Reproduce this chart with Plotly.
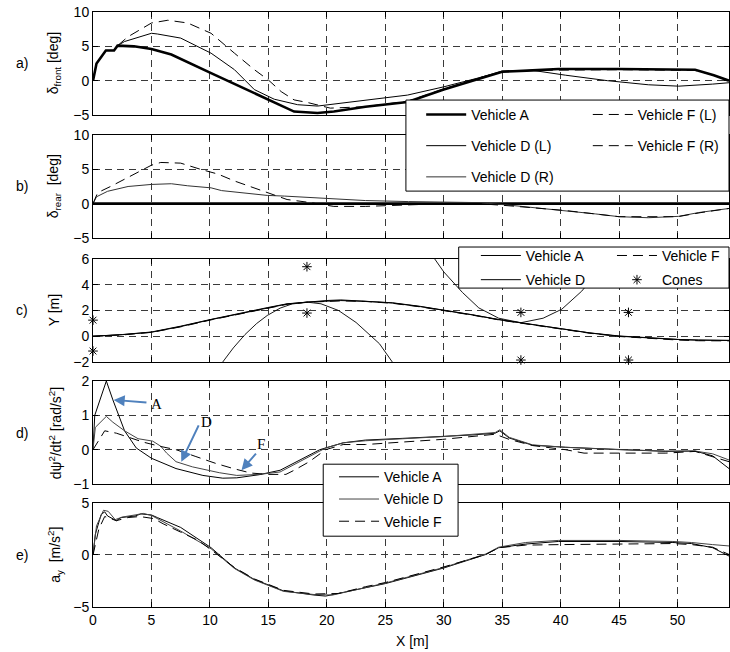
import plotly.graph_objects as go

# ---------------- data ----------------
# a) front steer angle [deg]
xa_A = [0, 0.3, 1.1, 1.8, 2.1, 3.5, 5.0, 6.7, 10.1, 12.0, 15.0, 17.2, 19.2, 20.6, 23.3, 26.9, 30.0, 33.2, 35.0, 37.6, 39.8, 45.0, 51.5, 53.1, 54.4]
ya_A = [0, 2.5, 4.4, 4.4, 5.1, 5.0, 4.6, 3.8, 1.1, -0.4, -2.8, -4.5, -4.7, -4.5, -3.8, -3.1, -1.3, 0.4, 1.3, 1.5, 1.7, 1.7, 1.6, 0.8, 0.0]
xa_D = [0, 0.3, 1.1, 1.8, 2.1, 2.7, 5.0, 5.5, 7.5, 10.1, 12.1, 13.8, 15.5, 17.5, 19.2, 20.1, 23.3, 26.9, 30.0, 33.2, 35.0, 37.6, 40.4, 44.0, 47.5, 50.1, 53.0, 54.4]
ya_D = [0, 2.5, 4.4, 4.4, 5.1, 5.7, 6.9, 6.8, 6.2, 4.0, 1.6, -1.3, -2.7, -3.5, -3.7, -3.5, -2.8, -2.1, -0.9, 0.5, 1.4, 1.5, 0.8, 0.0, -0.6, -0.8, -0.5, -0.3]
xa_F = [0, 0.3, 1.1, 1.8, 2.1, 3.0, 5.0, 6.4, 8.1, 10.1, 12.1, 13.8, 15.0, 16.1, 17.2, 18.4, 20.3, 23.2, 26.9, 30.0, 33.2, 35.0, 37.6, 45.0, 51.5, 53.1, 54.4]
ya_F = [0, 2.5, 4.4, 4.4, 5.1, 6.4, 8.4, 8.8, 8.4, 6.9, 4.0, 1.6, 0.1, -1.6, -2.8, -3.2, -4.0, -3.8, -3.0, -1.2, 0.5, 1.3, 1.5, 1.6, 1.5, 0.8, 0.05]

# b) rear steer angle [deg]
xb_A = [0, 54.4]
yb_A = [0, 0]
xb_D = [0, 0.3, 1.25, 3.0, 5.0, 6.7, 8.1, 10.1, 11.0, 13.0, 14.9, 16.4, 18.3, 20.6, 23.3, 27.0, 30.0, 33.0, 35.5, 38.0, 40.4, 43.0, 45.0, 47.5, 50.1, 51.8, 54.4]
yb_D = [0, 1.0, 1.8, 2.5, 2.8, 2.9, 2.6, 2.3, 1.9, 1.5, 1.2, 1.1, 0.9, 0.7, 0.45, 0.3, 0.25, 0.15, -0.2, -0.6, -1.0, -1.5, -1.9, -2.05, -1.85, -1.3, -0.7]
xb_F = [0, 0.4, 1.5, 3.5, 5.0, 5.8, 7.5, 9.2, 10.7, 12.1, 13.8, 15.2, 16.6, 18.4, 20.6, 23.3, 27.0, 30.0, 33.0, 35.5, 40.4, 45.0, 50.0, 52.0, 54.4]
yb_F = [0, 1.6, 2.5, 4.3, 5.6, 6.0, 5.9, 5.0, 4.3, 3.3, 2.25, 1.35, 0.6, 0.2, -0.4, -0.4, -0.2, 0.0, 0.0, -0.3, -1.0, -1.9, -1.9, -1.3, -0.7]

# c) lateral position Y [m]
xc_A = [0, 2.5, 5.0, 7.5, 10.1, 12.5, 14.9, 16.6, 18.4, 20.1, 21.2, 23.3, 25.6, 28.0, 30.2, 32.5, 34.7, 36.2, 40.1, 42.5, 45.0, 47.5, 50.1, 51.8, 54.4]
yc_A = [0, 0.12, 0.31, 0.75, 1.29, 1.75, 2.2, 2.5, 2.66, 2.74, 2.77, 2.71, 2.58, 2.3, 2.0, 1.65, 1.29, 1.09, 0.52, 0.25, 0.0, -0.15, -0.26, -0.3, -0.33]
xc_D = [0, 2.5, 5.0, 7.5, 10.1, 12.5, 14.9, 16.6, 18.4, 20.1, 21.2, 23.3, 25.6, 28.0, 30.2, 32.5, 34.7, 36.2, 40.1, 42.5, 45.0, 47.5, 50.1, 51.8, 54.4]
yc_D = [0, 0.13, 0.33, 0.78, 1.31, 1.78, 2.22, 2.52, 2.68, 2.78, 2.82, 2.73, 2.6, 2.32, 2.02, 1.66, 1.3, 1.1, 0.53, 0.26, 0.02, -0.14, -0.25, -0.3, -0.32]
xc_F = [0, 2.5, 5.0, 7.5, 10.1, 12.5, 14.9, 16.6, 18.4, 20.1, 21.2, 23.3, 25.6, 28.0, 30.2, 32.5, 34.7, 36.2, 40.1, 42.5, 45.0, 47.5, 50.1, 51.8, 54.4]
yc_F = [0, 0.1, 0.3, 0.73, 1.27, 1.73, 2.18, 2.48, 2.64, 2.72, 2.75, 2.7, 2.56, 2.28, 1.98, 1.63, 1.27, 1.07, 0.5, 0.23, -0.02, -0.17, -0.3, -0.35, -0.36]
xc_arc1 = [10.6, 11.1, 12.0, 13.0, 14.0, 14.9, 16.0, 17.0, 18.3, 19.5, 21.0, 22.5, 23.3, 24.5, 25.6, 26.0]
yc_arc1 = [-2.6, -2.0, -0.91, 0.13, 0.99, 1.61, 2.18, 2.5, 2.65, 2.52, 2.0, 1.07, 0.41, -0.58, -2.0, -2.6]
xc_arc2 = [29.0, 30.0, 31.6, 33.0, 34.7, 36.6, 38.5, 40.1, 41.8, 43.0, 44.2]
yc_arc2 = [6.3, 5.0, 3.4, 2.2, 1.4, 1.05, 1.4, 2.1, 3.5, 4.8, 6.3]
x_cones = [0, 0, 18.3, 18.3, 36.6, 36.6, 45.8, 45.8]
y_cones = [1.25, -1.15, 5.4, 1.8, 1.85, -1.85, 1.85, -1.85]

# d) yaw acceleration [rad/s^2]
xd_A = [0, 0.15, 1.14, 1.7, 2.7, 3.7, 5.0, 7.1, 9.4, 11.1, 12.3, 14.2, 16.0, 17.7, 19.4, 21.4, 23.3, 26.5, 29.9, 32.5, 34.4, 34.8, 35.6, 37.6, 40.4, 45.0, 49.0, 51.5, 53.0, 54.4]
yd_A = [0, 1.0, 2.0, 1.45, 0.55, 0.05, -0.25, -0.55, -0.75, -0.83, -0.82, -0.73, -0.6, -0.3, 0.0, 0.2, 0.28, 0.33, 0.38, 0.43, 0.48, 0.55, 0.34, 0.13, 0.07, 0.0, -0.05, -0.04, -0.18, -0.55]
xd_D = [0, 0.2, 1.14, 1.7, 2.7, 3.85, 5.1, 5.8, 6.3, 7.1, 8.5, 10.8, 12.3, 14.2, 16.0, 17.7, 19.9, 21.4, 23.3, 29.9, 34.4, 34.8, 35.6, 37.6, 40.4, 45.0, 49.0, 51.5, 53.0, 54.4]
yd_D = [0, 0.65, 0.97, 0.8, 0.55, 0.32, 0.25, 0.1, -0.1, -0.35, -0.5, -0.67, -0.75, -0.72, -0.65, -0.35, 0.05, 0.2, 0.26, 0.38, 0.5, 0.58, 0.36, 0.14, 0.07, 0.0, -0.04, -0.04, -0.12, -0.3]
xd_F = [0, 1.0, 2.0, 2.9, 4.3, 5.7, 7.1, 8.8, 10.5, 12.0, 13.5, 15.0, 16.5, 17.2, 18.5, 19.9, 21.4, 23.3, 29.9, 34.4, 35.6, 37.6, 40.4, 42.0, 45.0, 49.0, 51.5, 53.0, 54.4]
yd_F = [0, 0.55, 0.48, 0.38, 0.22, 0.1, 0.0, -0.2, -0.4, -0.55, -0.68, -0.72, -0.72, -0.6, -0.35, 0.0, 0.15, 0.15, 0.3, 0.45, 0.3, 0.12, 0.0, -0.1, -0.1, -0.1, -0.05, -0.2, -0.35]

# e) lateral acceleration [m/s^2]
xe_A = [0, 0.2, 0.7, 1.0, 1.25, 2.0, 2.4, 3.6, 4.1, 5.0, 5.5, 7.5, 10.1, 12.1, 13.8, 16.3, 18.9, 19.9, 23.3, 25.0, 30.0, 33.6, 34.7, 37.0, 39.8, 45.0, 49.6, 51.2, 53.0, 54.4]
ye_A = [0, 2.0, 3.9, 4.15, 3.75, 3.3, 3.6, 3.75, 3.95, 3.85, 3.6, 2.65, 0.7, -1.25, -2.35, -3.45, -3.85, -3.95, -3.15, -2.75, -1.25, 0.05, 0.7, 1.05, 1.3, 1.3, 1.2, 1.1, 0.7, -0.1]
xe_D = [0, 0.3, 0.9, 1.3, 1.9, 2.5, 3.6, 4.3, 5.0, 6.0, 7.5, 9.5, 10.1, 12.1, 13.8, 16.3, 18.9, 20.5, 23.3, 25.0, 30.0, 33.6, 34.7, 37.0, 39.8, 45.0, 49.6, 51.2, 53.0, 54.4]
ye_D = [0, 2.8, 4.3, 4.2, 3.4, 3.65, 3.85, 4.0, 3.8, 3.2, 2.3, 1.0, 0.6, -1.3, -2.4, -3.5, -3.8, -3.85, -3.1, -2.7, -1.2, 0.1, 0.75, 1.2, 1.4, 1.4, 1.3, 1.2, 1.0, 0.87]
xe_F = [0, 0.5, 1.0, 1.5, 2.0, 3.0, 4.0, 5.2, 6.0, 7.5, 9.0, 10.1, 12.1, 13.8, 16.3, 18.9, 21.0, 23.3, 25.0, 30.0, 33.6, 34.7, 37.0, 40.0, 45.0, 49.6, 51.2, 53.0, 54.4]
ye_F = [0, 2.5, 3.7, 3.5, 3.3, 3.6, 3.7, 3.5, 3.0, 2.2, 1.4, 0.5, -1.2, -2.3, -3.4, -3.75, -3.7, -3.05, -2.65, -1.15, 0.05, 0.7, 0.95, 1.0, 1.05, 1.1, 1.0, 0.75, 0.05]

x_ticks = [0, 5, 10, 15, 20, 25, 30, 35, 40, 45, 50]
y_ranges = [[-5, 10], [-5, 10], [-2, 6], [-1, 2], [-5, 5]]
y_ticks = [[-5, 0, 5, 10], [-5, 0, 5, 10], [-2, 0, 2, 4, 6], [-1, 0, 1, 2], [-5, 0, 5]]
panel_labels = ["a)", "b)", "c)", "d)", "e)"]
y_titles = ["δ<sub>front</sub> [deg]", "δ<sub>rear</sub>  [deg]", "Y [m]",
            "dψ<sup>2</sup>/dt<sup>2</sup> [rad/s<sup>2</sup>]", "a<sub>y</sub>  [m/s<sup>2</sup>]"]

# ---------------- figure ----------------
FONT = "Liberation Sans, Arial, Helvetica, sans-serif"
domains = [[0.8269, 1.0], [0.6202, 0.7933], [0.4118, 0.5849], [0.2067, 0.3798], [0.0, 0.1748]]

fig = go.Figure()

def add(x, y, ax, name=None, width=1.0, dash="solid", color="black", legend=None, group=None, show=True):
    fig.add_trace(go.Scatter(
        x=x, y=y, mode="lines", name=name,
        line=dict(color=color, width=width, dash=dash),
        xaxis="x" + ("" if ax == 1 else str(ax)), yaxis="y" + ("" if ax == 1 else str(ax)),
        showlegend=show and name is not None, legend=legend, legendgroup=group,
        hoverinfo="skip"))

LD = "10px,6px"
# panel a
add(xa_A, ya_A, 1, "Vehicle A", 2.6, legend="legend", group="g1")
add(xa_D, ya_D, 1, "Vehicle D (L)", 1.0, legend="legend", group="g2")
add(xa_F, ya_F, 1, "Vehicle F (L)", 1.0, dash=LD, legend="legend4", group="g4")
# panel b
add(xb_A, yb_A, 2, None, 2.6)
add(xb_D, yb_D, 2, "Vehicle D (R)", 1.0, color="#333333", legend="legend", group="g3")
add(xb_F, yb_F, 2, "Vehicle F (R)", 1.0, dash=LD, legend="legend4", group="g5")
# panel c
add(xc_A, yc_A, 3, "Vehicle A", 1.0, legend="legend2", group="c1")
add(xc_D, yc_D, 3, "Vehicle D", 1.0, legend="legend2", group="c2")
add(xc_F, yc_F, 3, "Vehicle F", 1.0, dash=LD, legend="legend5", group="c3")
add(xc_arc1, yc_arc1, 3, None, 0.9)
add(xc_arc2, yc_arc2, 3, None, 0.9)
fig.add_trace(go.Scatter(x=x_cones, y=y_cones, mode="markers", name="Cones",
                         marker=dict(symbol="asterisk-open", size=8, color="black",
                                     line=dict(color="black", width=1)),
                         xaxis="x3", yaxis="y3", legend="legend5", legendgroup="c4",
                         cliponaxis=False, hoverinfo="skip"))
# panel d
add(xd_A, yd_A, 4, "Vehicle A", 1.0, legend="legend3", group="d1")
add(xd_D, yd_D, 4, "Vehicle D", 1.0, color="#444444", legend="legend3", group="d2")
add(xd_F, yd_F, 4, "Vehicle F", 1.0, dash=LD, legend="legend3", group="d3")
# panel e
add(xe_A, ye_A, 5, None, 1.0)
add(xe_D, ye_D, 5, None, 1.0, color="#444444")
add(xe_F, ye_F, 5, None, 1.0, dash=LD)

layout = dict(
    width=730, height=652,
    margin=dict(l=93, r=1, t=12, b=45),
    paper_bgcolor="white", plot_bgcolor="white",
    font=dict(family=FONT, size=14, color="black"),
    showlegend=True,
)
for i in range(1, 6):
    sx = "" if i == 1 else str(i)
    layout["xaxis" + sx] = dict(
        domain=[0, 1], range=[0, 54.4], anchor="y" + sx,
        tickvals=x_ticks, showticklabels=(i == 5),
        ticks="inside", ticklen=5, tickcolor="black",
        showline=True, linecolor="black", linewidth=1, mirror="allticks",
        showgrid=True, gridcolor="#3a3a3a", gridwidth=1, griddash="7px,5px",
        zeroline=False, tickfont=dict(size=14))
    layout["yaxis" + sx] = dict(
        domain=domains[i - 1], range=y_ranges[i - 1], anchor="x" + sx,
        tickvals=y_ticks[i - 1],
        ticks="inside", ticklen=5, tickcolor="black",
        showline=True, linecolor="black", linewidth=1, mirror="allticks",
        showgrid=True, gridcolor="#3a3a3a", gridwidth=1, griddash="7px,5px",
        zeroline=False, tickfont=dict(size=14))

leg_common = dict(bgcolor="rgba(0,0,0,0)", borderwidth=0, font=dict(family=FONT, size=14),
                  xanchor="left", yanchor="top", itemwidth=40, traceorder="grouped")
layout["legend"] = dict(leg_common, x=0.516, y=0.854, tracegroupgap=10)
layout["legend4"] = dict(leg_common, x=0.778, y=0.854, tracegroupgap=10)
layout["legend2"] = dict(leg_common, x=0.602, y=0.617, tracegroupgap=3)
layout["legend5"] = dict(leg_common, x=0.816, y=0.617, tracegroupgap=3)
layout["legend3"] = dict(leg_common, x=0.379, y=0.245, tracegroupgap=1)
fig.update_layout(**layout)

# legend boxes
for (x0, x1, y0, y1) in [(0.492, 1.0, 0.699, 0.852), (0.575, 1.0, 0.536, 0.605), (0.362, 0.574, 0.119, 0.240)]:
    fig.add_shape(type="rect", xref="paper", yref="paper", x0=x0, x1=x1, y0=y0, y1=y1,
                  line=dict(color="black", width=1), fillcolor="white", layer="above")

# panel labels and axis titles
for i in range(5):
    yc = (domains[i][0] + domains[i][1]) / 2
    fig.add_annotation(text=panel_labels[i], xref="paper", yref="paper", x=-0.111, y=yc,
                       showarrow=False, xanchor="center", yanchor="middle", font=dict(size=14))
    fig.add_annotation(text=y_titles[i], xref="paper", yref="paper", x=-0.060, y=yc,
                       showarrow=False, textangle=-90, xanchor="center", yanchor="middle",
                       font=dict(size=14))
fig.add_annotation(text="X [m]", xref="paper", yref="paper", x=0.503, y=-0.057,
                   showarrow=False, xanchor="center", yanchor="middle", font=dict(size=14))

# blue arrows in panel d
BLUE = "#4F81BD"
arrows = [((1.77, 1.45), (4.7, 1.37), (5.4, 1.33), "A"),
          ((7.55, -0.35), (9.1, 0.75), (9.7, 0.82), "D"),
          ((12.7, -0.6), (14.05, -0.07), (14.4, 0.17), "F")]
for head, tail, tpos, lab in arrows:
    fig.add_annotation(x=head[0], y=head[1], ax=tail[0], ay=tail[1],
                       xref="x4", yref="y4", axref="x4", ayref="y4", text="",
                       showarrow=True, arrowhead=2, arrowsize=1.1, arrowwidth=2,
                       arrowcolor=BLUE, standoff=0, startstandoff=0)
    fig.add_annotation(x=tpos[0], y=tpos[1], xref="x4", yref="y4", text=lab,
                       showarrow=False, xanchor="center", yanchor="middle",
                       font=dict(family="Liberation Serif, Times New Roman, serif", size=15))

fig.write_html("out.html", config={"displayModeBar": False},
               post_script="document.body.style.margin='0px';")
